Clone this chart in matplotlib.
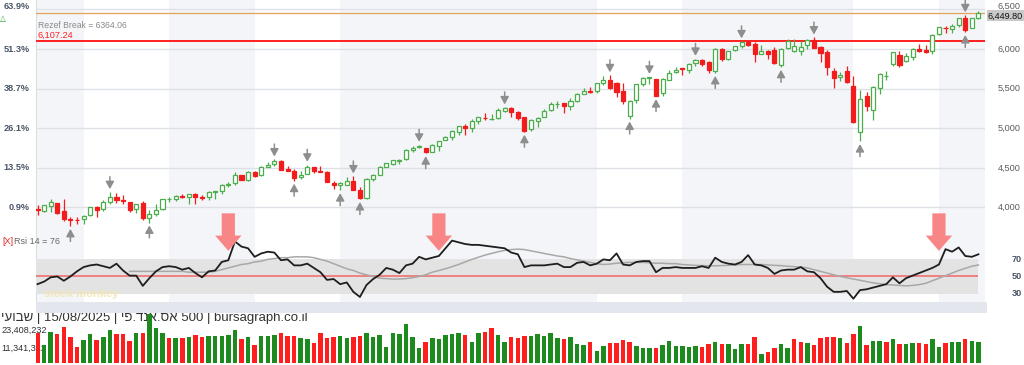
import matplotlib.pyplot as plt
import matplotlib.transforms as mtransforms
from matplotlib.patches import Rectangle

plt.rcParams['font.family'] = ['Liberation Sans', 'DejaVu Sans']

# weekly S&P 500 candles, 18/11/2022 .. 15/08/2025
opens = [3977, 3956, 4023, 4052, 3954, 3853, 3843, 3853, 3910, 3999,
         3978, 4073, 4137, 4090, 4068, 3982, 4055, 3860, 3917, 3975,
         4102, 4110, 4137, 4134, 4166, 4136, 4126, 4190, 4205, 4282,
         4305, 4404, 4344, 4450, 4404, 4514, 4547, 4585, 4479, 4464,
         4389, 4416, 4511, 4463, 4452, 4310, 4285, 4289, 4329, 4225,
         4118, 4364, 4411, 4514, 4554, 4584, 4610, 4725, 4758, 4745,
         4703, 4772, 4853, 4888, 4957, 5026, 5004, 5094, 5130, 5111,
         5123, 5219, 5258, 5211, 5145, 4987, 5085, 5142, 5225, 5305,
         5316, 5283, 5341, 5432, 5473, 5471, 5572, 5615, 5565, 5476,
         5151, 5353, 5557, 5636, 5623, 5442, 5615, 5712, 5757, 5737,
         5825, 5857, 5833, 5725, 6006, 5874, 5992, 6040, 6091, 6063,
         5940, 5973, 5982, 5804, 6014, 5969, 5969, 6046, 6115, 6026,
         5968, 5721, 5653, 5718, 5527, 4954, 5411, 5232, 5508, 5655,
         5807, 5919, 5854, 5897, 6004, 5985, 5970, 6193, 6271, 6255,
         6304, 6394, 6271, 6389]
highs = [4029, 4034, 4100, 4052, 4101, 3875, 3878, 3906, 4003, 4015,
         4094, 4195, 4176, 4156, 4068, 4049, 4079, 3964, 4039, 4110,
         4133, 4163, 4169, 4170, 4186, 4154, 4212, 4212, 4291, 4323,
         4448, 4404, 4458, 4456, 4527, 4578, 4607, 4595, 4527, 4490,
         4458, 4541, 4511, 4527, 4461, 4338, 4317, 4385, 4393, 4259,
         4374, 4418, 4521, 4567, 4597, 4610, 4738, 4778, 4793, 4754,
         4802, 4842, 4907, 4975, 5030, 5048, 5111, 5141, 5189, 5179,
         5261, 5265, 5264, 5222, 5146, 5114, 5139, 5240, 5325, 5342,
         5318, 5376, 5447, 5506, 5523, 5570, 5655, 5670, 5585, 5566,
         5362, 5561, 5643, 5651, 5623, 5636, 5734, 5767, 5765, 5822,
         5878, 5878, 5850, 6012, 6017, 5972, 6044, 6099, 6095, 6085,
         6049, 5983, 6021, 6008, 6128, 6121, 6101, 6128, 6147, 6044,
         5986, 5763, 5715, 5786, 5656, 5481, 5459, 5528, 5700, 5720,
         5959, 5969, 5944, 6017, 6059, 6051, 6187, 6284, 6290, 6316,
         6395, 6428, 6395, 6481]
lows = [3906, 3940, 3938, 3918, 3827, 3764, 3795, 3794, 3887, 3885,
        3960, 4037, 4060, 4047, 3943, 3928, 3847, 3808, 3888, 3971,
        4069, 4086, 4114, 4049, 4048, 4099, 4098, 4103, 4166, 4255,
        4288, 4341, 4328, 4385, 4393, 4514, 4528, 4474, 4458, 4335,
        4356, 4416, 4430, 4448, 4316, 4238, 4216, 4283, 4224, 4104,
        4103, 4329, 4411, 4511, 4537, 4546, 4597, 4697, 4751, 4682,
        4699, 4714, 4845, 4845, 4920, 4920, 4946, 5057, 5107, 5104,
        5117, 5203, 5146, 5107, 4953, 4963, 5011, 5142, 5214, 5257,
        5191, 5234, 5329, 5432, 5447, 5445, 5546, 5497, 5390, 5305,
        5120, 5321, 5537, 5560, 5403, 5406, 5604, 5691, 5674, 5696,
        5784, 5783, 5703, 5696, 5853, 5857, 5970, 6018, 6040, 5832,
        5932, 5868, 5810, 5773, 6006, 5962, 5923, 6003, 6009, 5837,
        5666, 5505, 5597, 5573, 5069, 4835, 5220, 5101, 5434, 5607,
        5786, 5767, 5833, 5861, 5963, 5952, 5943, 6173, 6201, 6201,
        6281, 6212, 6260, 6374]
closes = [3965, 4026, 4072, 3934, 3852, 3845, 3840, 3895, 3999, 3973,
          4071, 4136, 4090, 4079, 3970, 4046, 3862, 3917, 3971, 4109,
          4105, 4138, 4134, 4169, 4136, 4124, 4192, 4205, 4282, 4299,
          4410, 4348, 4450, 4399, 4505, 4536, 4582, 4478, 4464, 4370,
          4406, 4516, 4457, 4450, 4320, 4288, 4309, 4328, 4224, 4117,
          4358, 4415, 4514, 4559, 4595, 4604, 4719, 4755, 4770, 4697,
          4784, 4840, 4891, 4959, 5027, 5006, 5089, 5137, 5124, 5117,
          5234, 5254, 5204, 5123, 4967, 5100, 5128, 5223, 5303, 5305,
          5278, 5347, 5432, 5465, 5460, 5567, 5615, 5505, 5459, 5347,
          5344, 5554, 5635, 5648, 5408, 5626, 5703, 5738, 5751, 5815,
          5865, 5808, 5729, 5996, 5871, 5969, 6032, 6090, 6051, 5931,
          5971, 5942, 5827, 5997, 6101, 6041, 6026, 6115, 6013, 5955,
          5770, 5639, 5668, 5581, 5074, 5363, 5283, 5525, 5687, 5660,
          5958, 5803, 5912, 6000, 5977, 5968, 6173, 6279, 6260, 6297,
          6389, 6238, 6389, 6450]
prior_close = 3993

# weekly volume, millions
volumes = [20.4, 12.0, 21.0, 19.5, 24.0, 17.2, 10.9, 15.4, 19.5, 15.4,
           17.7, 22.2, 19.5, 19.5, 14.7, 20.4, 20.4, 32.9, 23.4, 20.0,
           16.5, 17.0, 17.0, 17.7, 18.8, 17.7, 18.1, 18.1, 18.1, 18.8,
           22.2, 16.1, 17.2, 12.0, 18.1, 18.1, 18.8, 20.0, 18.1, 18.1,
           17.0, 15.9, 13.1, 20.0, 16.5, 17.2, 18.1, 16.5, 17.7, 18.4,
           20.4, 17.7, 18.8, 10.9, 20.0, 19.3, 26.0, 17.7, 10.2, 14.3,
           17.0, 15.9, 18.8, 19.3, 20.4, 18.8, 14.3, 20.4, 20.6, 23.4,
           18.8, 14.3, 17.2, 17.0, 18.1, 18.1, 19.5, 18.1, 20.0, 17.0,
           15.9, 17.7, 12.5, 12.0, 13.8, 7.9, 11.5, 13.1, 13.1, 15.4,
           14.3, 11.3, 10.2, 10.2, 9.7, 12.0, 15.0, 11.5, 11.3, 10.4,
           11.3, 10.9, 12.9, 14.3, 12.9, 12.9, 9.3, 12.5, 12.5, 17.7,
           6.2, 7.5, 10.2, 12.5, 10.2, 15.9, 14.3, 13.6, 12.0, 16.5,
           17.2, 17.2, 16.5, 13.1, 19.3, 25.2, 12.0, 14.7, 14.7, 13.8,
           15.9, 12.7, 12.7, 13.6, 13.6, 12.7, 16.1, 10.9, 13.1, 13.8,
           14.3, 16.1, 14.7, 14.3]

rsi = [41, 44, 49, 50, 45, 50, 56, 61, 63, 64,
       62, 60, 65, 57, 51, 51, 39, 48, 56, 61,
       62, 61, 58, 60, 54, 49, 56, 57, 67, 69,
       91, 85, 83, 73, 77, 79, 78, 69, 70, 63,
       63, 65, 60, 55, 46, 47, 41, 43, 32, 26,
       40, 47, 52, 60, 58, 54, 63, 65, 73, 70,
       72, 74, 83, 92, 90, 88, 87, 87, 86, 85,
       84, 83, 78, 76, 61, 63, 63, 63, 64, 65,
       61, 61, 66, 67, 63, 65, 70, 69, 77, 64,
       63, 67, 68, 68, 55, 60, 60, 61, 60, 60,
       60, 62, 60, 72, 67, 65, 64, 67, 75, 64,
       63, 60, 53, 57, 58, 58, 61, 56, 55, 48,
       38, 32, 32, 33, 24, 34, 35, 37, 39, 41,
       49, 42, 48, 51, 54, 57, 60, 64, 82, 79,
       84, 74, 73, 76]
rsi_ma = [56, 56, 56, 56, 56, 56, 56, 56, 56, 55, 55, 55, 55, 56,
          58, 60, 62, 64, 65, 67, 68, 70, 71, 72,
          72, 73, 73, 73, 72, 70, 68, 65, 62, 59,
          57, 54, 52, 50, 48, 47.5, 47, 47, 47.5, 48.5,
          50, 52, 55, 57, 59, 61.5, 64, 67, 70, 72.5,
          75, 77, 79, 80.5, 81.5, 82, 81.5, 80, 78.5, 77,
          75.5, 74, 73, 71, 69.5, 68, 66.5, 65, 64, 64.5,
          65.5, 66, 66.5, 66.5, 66.5, 66, 65.5, 65.5, 65, 65,
          64, 63.5, 63, 62.7, 62.5, 62.5, 62.7, 63, 63.5, 64,
          64, 64, 64, 63.5, 63, 62.7, 62, 61.5, 61, 60,
          58, 56, 54, 52, 50, 48.5, 47, 45.5, 44, 42.5,
          41.5, 40.5, 40, 39.5, 39, 39.5, 40.5, 42, 45, 48,
          51, 54, 57, 59.5, 62, 63.5]

down_marks = [11, 36, 41, 48, 58, 71, 87, 93, 100, 107, 118, 141]
up_marks = [5, 17, 39, 46, 49, 59, 74, 90, 94, 103, 113, 125, 141]
signal_weeks = [29, 61, 137]

tick_weeks = [2, 7, 20, 33, 46, 59, 72, 85, 98, 111, 124, 137]
tick_labels = ['מצד', '2023', 'רפא', 'ילוי', 'קוא', '2024', 'רפא', 'ילוי',
               'קוא', '2025', 'רפא', 'ילוי']
shaded = [(-0.23, 7), (20, 33), (46, 85), (98, 124), (137, 144)]

price_levels = [4000, 4500, 5000, 5500, 6000, 6500]
price_labels = ['4,000', '4,500', '5,000', '5,500', '6,000', '6,500']
pct_labels = ['0.9%', '13.5%', '26.1%', '38.7%', '51.3%', '63.9%']
last_price = 6449.80
support = 6107.24
rezef_break = 6364.06
rsi_levels = [30, 50, 70]
vol_ticks = [11.341312, 23.408232]
vol_labels = ['11,341,312', '23,408,232']

W, H = 1024, 365
fig = plt.figure(figsize=(W / 100, H / 100), dpi=100)


def box(x0, y0, x1, y1):
    return [x0 / W, 1 - y1 / H, (x1 - x0) / W, (y1 - y0) / H]


XL = (-0.23, 144.0)
GREEN, RED = '#4cad4c', '#f21c1c'
n = len(closes)
idx = list(range(n))

# background quarter shading
ax_bg = fig.add_axes(box(36, 0, 985, 302))
ax_bg.set_xlim(XL)
ax_bg.set_ylim(0, 1)
ax_bg.axis('off')
for a, b in shaded:
    ax_bg.axvspan(a, b, color='#f4f5f8', lw=0)
ax_bg.axvline(XL[0], color='#d3d7dd', lw=1.2)

# price panel
ax = fig.add_axes(box(36, 0, 985, 236))
ax.set_facecolor('none')
ax.set_xlim(XL)
ax.set_ylim(3639, 6619)
ax.axis('off')
for p in price_levels:
    ax.axhline(p, color='#dde1e6', lw=1, zorder=0)
ax.axhline(last_price, color='#e2a866', lw=1, zorder=1)
ax.axhline(support, color='#ff1f1f', lw=1.4, zorder=1)

for i in idx:
    o, h, l, c = opens[i], highs[i], lows[i], closes[i]
    up = c >= o
    col = GREEN if up else RED
    ax.vlines(i, l, h, color=col, lw=0.9, zorder=2)
    body = max(abs(c - o), 6)
    ax.bar(i, body, bottom=min(o, c), width=0.62,
           facecolor='white' if up else RED, edgecolor=col, lw=0.9, zorder=3)

for i in down_marks:
    ax.annotate('', xy=(i, highs[i]), xytext=(0, 11), textcoords='offset points',
                arrowprops=dict(arrowstyle='-|>,head_length=0.45,head_width=0.25',
                                mutation_scale=10, color='#8e8e8e', lw=1.1,
                                shrinkA=0, shrinkB=2))
for i in up_marks:
    ax.annotate('', xy=(i, lows[i]), xytext=(0, -11), textcoords='offset points',
                arrowprops=dict(arrowstyle='-|>,head_length=0.45,head_width=0.25',
                                mutation_scale=10, color='#8e8e8e', lw=1.1,
                                shrinkA=0, shrinkB=2), annotation_clip=False)

tp = mtransforms.blended_transform_factory(fig.transFigure, ax.transData)
tp_up = mtransforms.offset_copy(tp, fig=fig, y=3, units='dots')
tp_dn = mtransforms.offset_copy(tp, fig=fig, y=-2.5, units='dots')
for p, lab, pct in zip(price_levels, price_labels, pct_labels):
    t = tp_up if p == price_levels[-1] else tp
    ax.text(1021 / W, p, lab, transform=t, ha='right', va='center',
            fontsize=6.6, color='#5c5c5c', clip_on=False)
    ax.text(30 / W, p, pct, transform=t, ha='right', va='center',
            fontsize=6.6, color='#4a5568', fontweight='bold', clip_on=False)
ax.text(1023 / W, last_price, f'{last_price:,.2f}', transform=tp_dn, ha='right',
        va='center', fontsize=6.6, color='#111', clip_on=False,
        bbox=dict(boxstyle='square,pad=0.12', fc='#c9c9c9', ec='none'))
fig.text(38 / W, 1 - 25 / H, f'Rezef Break = {rezef_break:.2f}', fontsize=6.2,
         color='#8a8a8a', va='center')
fig.text(38 / W, 1 - 35 / H, f'{support:,.2f}', fontsize=6.6,
         color='#ff2020', va='center')
fig.text(0, 1 - 19 / H, '△', fontsize=5.5, color='#2e9e3e', va='center')

# RSI panel
ax_r = fig.add_axes(box(36, 236, 985, 302))
ax_r.set_facecolor('none')
ax_r.set_xlim(XL)
ax_r.set_ylim(20.1, 97.4)
ax_r.axis('off')
ax_r.fill_between([-0.23, n - 1], 30, 70, color='#e3e3e3', lw=0, zorder=0)
ax_r.hlines(50, -0.23, n - 1, color='#f07070', lw=1.2, zorder=1)
ax_r.plot(range(n - len(rsi_ma), n), rsi_ma, color='#a8a8a8', lw=1.1, zorder=2)
ax_r.plot(idx, rsi, color='#1e1e1e', lw=1.3, zorder=3)
for i in signal_weeks:
    ax_r.annotate('', xy=(i, 80), xytext=(0, 27), textcoords='offset points',
                  arrowprops=dict(arrowstyle='simple,head_length=1.1,head_width=1.9,tail_width=0.95',
                                  mutation_scale=10, color='#f88686', lw=0,
                                  shrinkA=0, shrinkB=0), annotation_clip=False)
tr = mtransforms.blended_transform_factory(fig.transFigure, ax_r.transData)
for lv in rsi_levels:
    ax_r.text(1022 / W, lv, str(lv), transform=tr, ha='right', va='center',
              fontsize=6.6, color='#4a5568', fontweight='bold', clip_on=False)
fig.text(2 / W, 1 - 241 / H, '[X]', fontsize=6.5, color='#e02020', va='center')
fig.text(14 / W, 1 - 241 / H, f'Rsi 14 = {rsi[-1]}', fontsize=6.5,
         color='#666', va='center')
fig.text(44 / W, 1 - 294 / H, 'stock monkey', fontsize=8, color='#f3e6b0',
         fontweight='bold', va='center', alpha=0.9)

# date strip
fig.patches.append(Rectangle((36 / W, 1 - 313 / H), 951 / W, 11 / H,
                             transform=fig.transFigure, fc='#e3e7ed', ec='none'))
td = mtransforms.blended_transform_factory(ax_r.transData, fig.transFigure)
for t, lab in zip(tick_weeks, tick_labels):
    ax_r.text(t, 1 - 307.5 / H, lab, transform=td, ha='center', va='center',
              fontsize=6.8, color='#6b7a8f', clip_on=False)

# volume panel
ax_v = fig.add_axes(box(36, 312, 985, 365))
ax_v.set_facecolor('none')
ax_v.set_xlim(XL)
ax_v.set_ylim(-1.6, 34.5)
ax_v.axis('off')
prev = [prior_close] + closes[:-1]
vcols = ['#1c8a1c' if c >= pc else '#ff1e1e' for c, pc in zip(closes, prev)]
ax_v.bar(idx, volumes, width=0.68, color=vcols, zorder=2)
tv = mtransforms.blended_transform_factory(fig.transFigure, ax_v.transData)
tv_dn = mtransforms.offset_copy(tv, fig=fig, y=-2, units='dots')
for v, lab in zip(vol_ticks, vol_labels):
    ax_v.text(1 / W, v, lab, transform=tv_dn, ha='left', va='center',
              fontsize=6.6, color='#333', zorder=0, clip_on=False)
ax_v.text(1 / W, 1 - 317.5 / H, 'יעובש | 15/08/2025 | יפ.דנא.סא 500 | bursagraph.co.il',
          transform=fig.transFigure, ha='left', va='center', fontsize=9.5,
          color='#333', zorder=0, clip_on=False)

fig.savefig('out.png', dpi=100)
